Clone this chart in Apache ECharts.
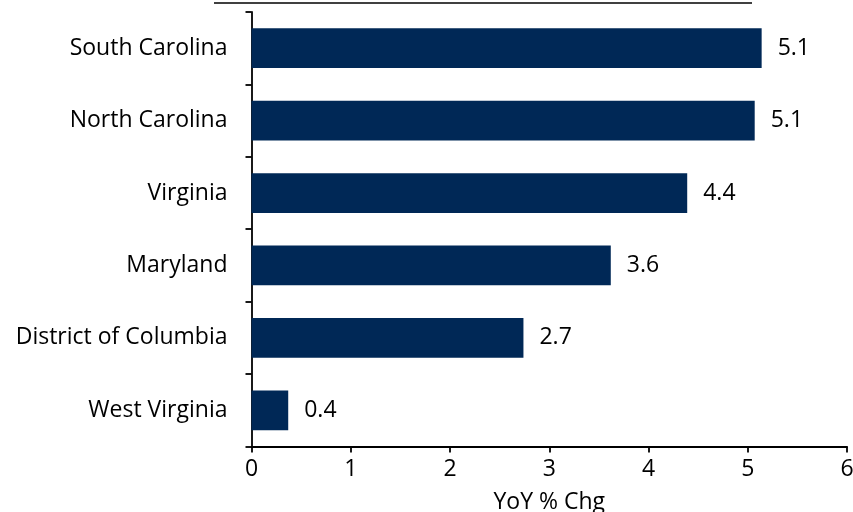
<!DOCTYPE html>
<html>
<head>
<meta charset="utf-8">
<style>
  html, body { margin: 0; padding: 0; background: #fff; }
  #chart { width: 853px; height: 512px; }
</style>
<script src="https://cdn.jsdelivr.net/npm/echarts@6/dist/echarts.min.js"></script>
</head>
<body>
<div id="chart"></div>
<script>
// States, listed bottom to top as the category axis draws them
const states = ['West Virginia', 'District of Columbia', 'Maryland', 'Virginia', 'North Carolina', 'South Carolina'];
// Year-over-year % change
const yoyChange = [0.37, 2.74, 3.62, 4.39, 5.07, 5.14];
const xTicks = [0, 1, 2, 3, 4, 5, 6];

const FONT = 'Open Sans';
const FONT_SIZE = 23;
const chart = echarts.init(document.getElementById('chart'), null, { renderer: 'canvas' });

chart.setOption({
  animation: false,
  backgroundColor: '#ffffff',
  textStyle: { fontFamily: FONT },
  grid: {
    left: 251.5, right: 6, top: 12, bottom: 65.5,
    containLabel: false,
    outerBoundsMode: 'none'
  },
  xAxis: {
    type: 'value',
    min: xTicks[0],
    max: xTicks[xTicks.length - 1],
    interval: 1,
    name: 'YoY % Chg',
    nameLocation: 'middle',
    nameGap: 44,
    nameTextStyle: { fontFamily: FONT, fontSize: FONT_SIZE, color: '#000' },
    axisLine: { show: true, lineStyle: { color: '#000', width: 1.8 } },
    axisTick: { show: true, length: 6, inside: false, lineStyle: { color: '#000', width: 1.8 } },
    axisLabel: { fontFamily: FONT, fontSize: FONT_SIZE, color: '#000', margin: 11 },
    splitLine: { show: false }
  },
  yAxis: {
    type: 'category',
    data: states,
    axisLine: { show: true, lineStyle: { color: '#000', width: 1.8 } },
    axisTick: { show: true, length: 6, alignWithLabel: false, lineStyle: { color: '#000', width: 1.8 } },
    axisLabel: { fontFamily: FONT, fontSize: FONT_SIZE, color: '#000', margin: 24 },
    splitLine: { show: false }
  },
  series: [{
    type: 'bar',
    data: yoyChange,
    barWidth: '55%',
    itemStyle: { color: '#002856' },
    label: {
      show: true,
      position: 'right',
      distance: 16,
      fontFamily: FONT,
      fontSize: FONT_SIZE,
      color: '#000',
      formatter: p => p.value.toFixed(1)
    }
  }],
  graphic: [{
    type: 'line',
    shape: { x1: 214, y1: 3, x2: 752, y2: 3 },
    style: { stroke: '#000', lineWidth: 1.5 }
  }]
});
</script>
</body>
</html>
